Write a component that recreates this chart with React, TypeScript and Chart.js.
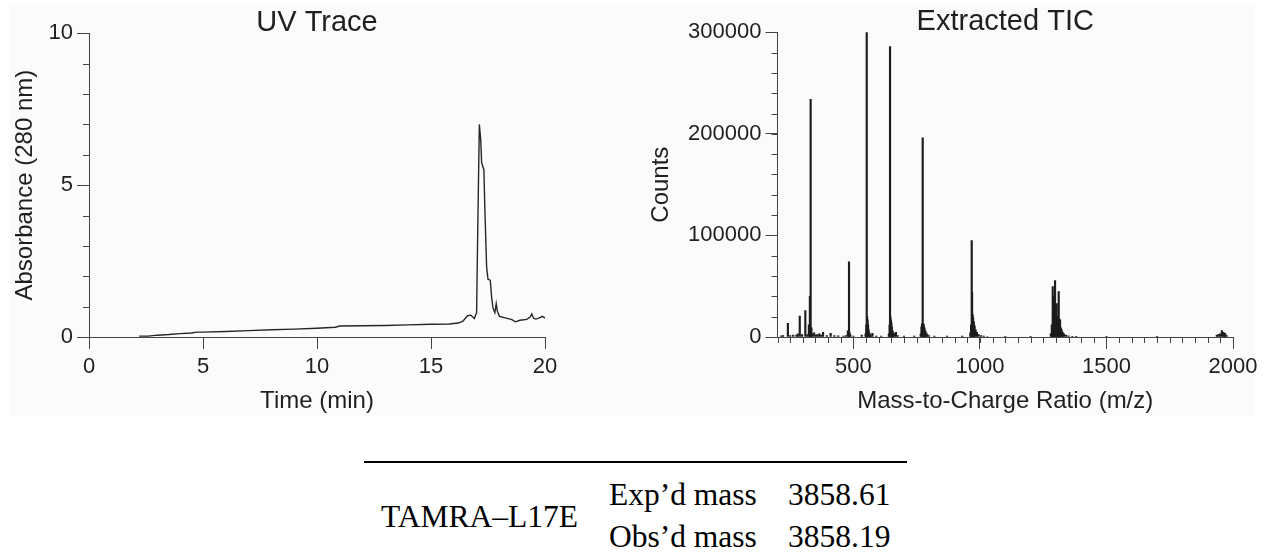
import React, { useEffect, useRef } from "react";
import { Chart, registerables } from "chart.js";

Chart.register(...registerables);

const FONT = "'Liberation Sans', Arial, Helvetica, sans-serif";
const SERIF = "'Liberation Serif', 'Times New Roman', serif";
const TEXT = "#1f1f1f";
const AXIS = "#444444";

// ---------- UV trace ----------
const uvTime = [
  2.2, 2.6, 3.0, 3.5, 4.0, 4.5, 4.7, 5.0, 6.0, 7.0, 8.0, 9.0, 10.0, 10.8, 11.0,
  12.0, 13.0, 14.0, 15.0, 15.8, 16.2, 16.4, 16.6, 16.75, 16.9, 17.0, 17.05,
  17.12, 17.18, 17.22, 17.32, 17.36, 17.44, 17.5, 17.6, 17.66, 17.72, 17.8,
  17.86, 17.91, 18.0, 18.3, 18.55, 18.7, 18.9, 19.2, 19.35, 19.42, 19.5, 19.6,
  19.75, 19.88, 20.0,
];
const uvAbs = [
  0.03, 0.03, 0.06, 0.08, 0.11, 0.13, 0.16, 0.16, 0.18, 0.21, 0.24, 0.26, 0.29,
  0.32, 0.36, 0.37, 0.38, 0.4, 0.42, 0.43, 0.46, 0.52, 0.7, 0.72, 0.61, 0.8,
  3.5, 7.0, 6.5, 5.75, 5.5, 4.3, 2.3, 1.9, 1.87, 1.3, 0.95, 0.8, 1.1, 0.85,
  0.68, 0.62, 0.57, 0.5, 0.55, 0.58, 0.66, 0.76, 0.62, 0.59, 0.63, 0.68, 0.62,
];
const uvXTicks = [0, 5, 10, 15, 20];
const uvYTicks = [0, 5, 10];
const uvYMinorStep = 1;

// ---------- Extracted TIC ----------
const msMz = [
  215, 222, 241, 250, 262, 275, 280, 288, 297, 310, 318, 324, 328, 331, 334,
  338, 345, 352, 358, 365, 372, 380, 395, 410, 425, 440, 460, 470, 478, 482.6,
  485, 488, 500, 533, 548, 551, 552.6, 554, 556, 558, 560, 563, 566, 570, 575,
  590, 610, 640, 643, 644.7, 646, 648, 650, 652, 655, 658, 662, 668, 675, 700,
  740, 766, 769, 771, 773.8, 776, 778, 781, 784, 788, 792, 798, 820, 870, 930,
  962, 965, 967.5, 969, 971, 973, 976, 979, 983, 988, 995, 1005, 1015, 1030,
  1100, 1200, 1280, 1284, 1287.6, 1290, 1292, 1294, 1296.8, 1299, 1301, 1303.4,
  1306, 1308, 1311.3, 1313, 1316.6, 1320, 1323, 1327, 1332, 1340, 1350, 1365,
  1380, 1500, 1700, 1936, 1942, 1949, 1956, 1962, 1966, 1969, 1975,
];
const msCounts = [
  1200, 1500, 13500, 1500, 1800, 2000, 3000, 20500, 2500, 26000, 2500, 12000,
  40000, 234000, 9000, 3000, 4000, 2000, 2500, 3000, 2000, 4500, 1500, 3500,
  1500, 1200, 1000, 1500, 6000, 74000, 4000, 2000, 1000, 2000, 3000, 12000,
  300000, 20000, 17000, 12000, 7000, 4000, 2500, 1500, 3500, 1000, 800, 3000,
  12000, 286000, 20000, 17000, 14000, 10000, 6000, 4000, 3000, 4500, 1500, 800,
  800, 3000, 10000, 13000, 196000, 13000, 12000, 9000, 6000, 4000, 2500, 1500,
  800, 800, 800, 4000, 12000, 95000, 43700, 22000, 19000, 15000, 11000, 7000,
  4500, 2500, 1500, 800, 500, 400, 400, 3000, 12000, 49600, 30000, 40000, 25000,
  55500, 30000, 22000, 33000, 20000, 14000, 44700, 18000, 17000, 9000, 7000,
  4500, 3000, 2000, 1200, 700, 400, 300, 300, 2000, 2500, 3000, 6400, 4500,
  2000, 3500, 1500,
];
const msXTicks = [500, 1000, 1500, 2000];
const msYTicks = [0, 100000, 200000, 300000];
const msXMinorStep = 50;
const msYMinorStep = 20000;

// ---------- table ----------
const peptideName = "TAMRA\u2013L17E";
const massLabels = ["Exp\u2019d mass", "Obs\u2019d mass"];
const massValues = ["3858.61", "3858.19"];

const minorTicksPlugin = {
  id: "minorTicks",
  afterDraw(chart: any, _args: any, opts: any) {
    const ctx = chart.ctx;
    ctx.save();
    ctx.strokeStyle = opts.color || AXIS;
    ctx.lineWidth = 1;
    const axes = opts.axes || {};
    for (const id of Object.keys(axes)) {
      const scale = chart.scales[id];
      const { step, length } = axes[id];
      if (!scale) continue;
      for (let v = scale.min; v <= scale.max + 1e-9; v += step) {
        const p = Math.round(scale.getPixelForValue(v)) + 0.5;
        ctx.beginPath();
        if (scale.isHorizontal()) {
          const y = chart.chartArea.bottom;
          ctx.moveTo(p, y);
          ctx.lineTo(p, y + length);
        } else {
          const x = chart.chartArea.left;
          ctx.moveTo(x - length, p);
          ctx.lineTo(x, p);
        }
        ctx.stroke();
      }
    }
    ctx.restore();
  },
};

function axisBase(ticksArr: number[], titleText: string, titlePad: any) {
  return {
    type: "linear",
    offset: false,
    afterBuildTicks: (s: any) => {
      s.ticks = ticksArr.map((v) => ({ value: v }));
    },
    ticks: {
      font: { family: FONT, size: 22 },
      color: TEXT,
      autoSkip: false,
      maxRotation: 0,
      callback: (v: any) => String(v),
    },
    grid: {
      drawOnChartArea: false,
      drawTicks: true,
      tickLength: 12,
      color: AXIS,
      lineWidth: 1,
      offset: false,
    },
    border: { display: true, color: AXIS, width: 1 },
    title: {
      display: true,
      text: titleText,
      color: TEXT,
      font: { family: FONT, size: 24, weight: "normal" },
      padding: titlePad,
    },
  };
}

function titleOpts(text: string, padTop: number) {
  return {
    display: true,
    text,
    fullSize: false,
    color: TEXT,
    font: { family: FONT, size: 29, weight: "normal", lineHeight: 0.7 },
    padding: { top: padTop, bottom: 0 },
  };
}

function makeUvConfig(): any {
  const x: any = axisBase(uvXTicks, "Time (min)", { top: 0, bottom: 4.6 });
  x.min = 0;
  x.max = 20;
  x.ticks.padding = 5;
  x.afterFit = (s: any) => {
    s.height = 83;
  };
  const y: any = axisBase(uvYTicks, "Absorbance (280 nm)", { top: 11, bottom: 0 });
  y.min = 0;
  y.max = 10;
  y.ticks.padding = 4;
  y.afterFit = (s: any) => {
    s.width = 89;
  };
  return {
    type: "line",
    data: {
      datasets: [
        {
          data: uvTime.map((t, i) => ({ x: t, y: uvAbs[i] })),
          borderColor: "#262626",
          borderWidth: 1.4,
          pointRadius: 0,
          tension: 0,
          fill: false,
        },
      ],
    },
    options: {
      responsive: false,
      animation: false,
      events: [],
      layout: { padding: { left: 0, top: 0, right: 620 - 545, bottom: 0 } },
      plugins: {
        legend: { display: false },
        tooltip: { enabled: false },
        title: titleOpts("UV Trace", 13),
        minorTicks: { color: AXIS, axes: { y: { step: uvYMinorStep, length: 6 } } },
      },
      scales: { x, y },
    },
    plugins: [minorTicksPlugin],
  };
}

function makeMsConfig(): any {
  const x: any = axisBase(msXTicks, "Mass-to-Charge Ratio (m/z)", { top: 0, bottom: 4.6 });
  x.min = 200;
  x.max = 2000;
  x.ticks.padding = 5;
  x.afterFit = (s: any) => {
    s.height = 83;
  };
  const y: any = axisBase(msYTicks, "Counts", { top: 6.6, bottom: 0 });
  y.min = 0;
  y.max = 300000;
  y.ticks.padding = 4;
  y.afterFit = (s: any) => {
    s.width = 137.5;
  };
  return {
    type: "bar",
    data: {
      datasets: [
        {
          data: msMz.map((m, i) => ({ x: m, y: msCounts[i] })),
          backgroundColor: "#1c1c1c",
          borderWidth: 0,
          barThickness: 1.5,
          grouped: false,
        },
      ],
    },
    options: {
      responsive: false,
      animation: false,
      events: [],
      layout: { padding: { left: 0, top: 0, right: 31, bottom: 0 } },
      plugins: {
        legend: { display: false },
        tooltip: { enabled: false },
        title: titleOpts("Extracted TIC", 12),
        minorTicks: {
          color: AXIS,
          axes: {
            x: { step: msXMinorStep, length: 6 },
            y: { step: msYMinorStep, length: 6 },
          },
        },
      },
      scales: { x, y },
    },
    plugins: [minorTicksPlugin],
  };
}

function ChartCanvas(props: { make: () => any; left: number; top: number; width: number; height: number }) {
  const ref = useRef<HTMLCanvasElement>(null);
  useEffect(() => {
    const chart = new Chart(ref.current as HTMLCanvasElement, props.make());
    return () => chart.destroy();
  }, []);
  return (
    <canvas
      ref={ref}
      width={props.width}
      height={props.height}
      style={{
        position: "absolute",
        left: props.left,
        top: props.top,
        width: props.width,
        height: props.height,
      }}
    />
  );
}

const tableText: React.CSSProperties = {
  position: "absolute",
  fontFamily: SERIF,
  fontSize: 31.5,
  lineHeight: "32px",
  color: "#000",
  whiteSpace: "nowrap",
};

export default function App() {
  return (
    <div
      style={{
        position: "absolute",
        left: 0,
        top: 0,
        width: 1264,
        height: 556,
        background: "#ffffff",
        overflow: "hidden",
      }}
    >
      <div
        style={{
          position: "absolute",
          left: 10,
          top: 5,
          width: 1244,
          height: 411,
          background: "#fbfbfb",
        }}
      />
      <ChartCanvas make={makeUvConfig} left={0} top={0} width={620} height={420} />
      <ChartCanvas make={makeMsConfig} left={640} top={0} width={624} height={420} />
      <div
        style={{
          position: "absolute",
          left: 364,
          top: 461,
          width: 543,
          height: 2,
          background: "#000",
        }}
      />
      <div style={{ ...tableText, left: 381, top: 501 }}>{peptideName}</div>
      <div style={{ ...tableText, left: 609, top: 479 }}>{massLabels[0]}</div>
      <div style={{ ...tableText, left: 788, top: 479 }}>{massValues[0]}</div>
      <div style={{ ...tableText, left: 609, top: 521 }}>{massLabels[1]}</div>
      <div style={{ ...tableText, left: 788, top: 521 }}>{massValues[1]}</div>
    </div>
  );
}
